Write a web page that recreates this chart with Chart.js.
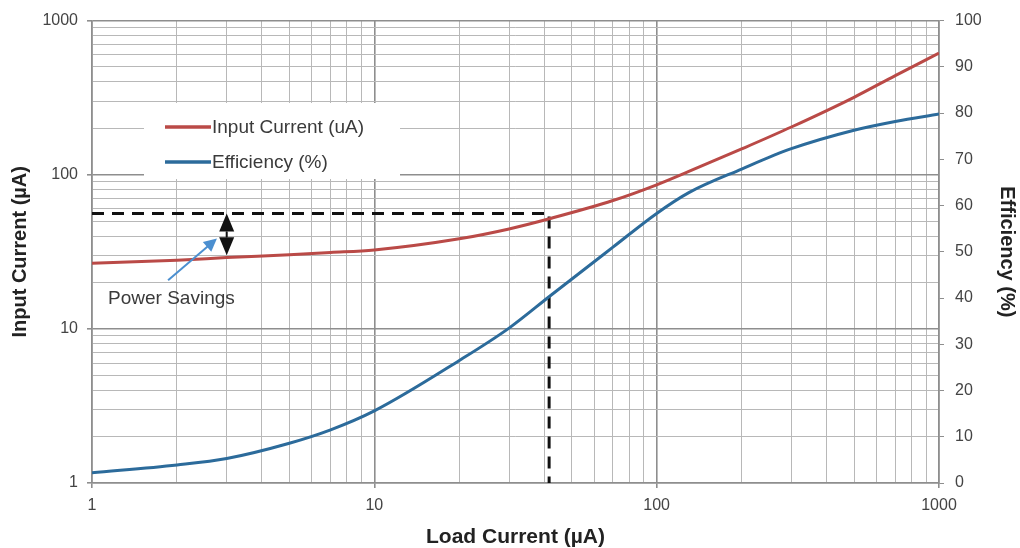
<!DOCTYPE html>
<html>
<head>
<meta charset="utf-8">
<script src="https://cdn.jsdelivr.net/npm/chart.js@4.4.1/dist/chart.umd.min.js"></script>
<style>
  html, body { margin: 0; padding: 0; background: #fff; }
  #wrap { width: 1020px; height: 548px; }
</style>
</head>
<body>
<div id="wrap"><canvas id="chart" width="1020" height="548"></canvas></div>
<script>
// Load current (uA) sample points along the curves
const loadCurrent = [1, 2, 3, 5, 7, 10, 20, 30, 42, 70, 100, 130, 200, 300, 500, 700, 1000];
// Input current (uA), left log axis
const inputCurrent = [26.7, 27.9, 29.0, 30.3, 31.3, 32.5, 38.4, 44.5, 52, 68, 86, 105, 147, 204, 318, 440, 615];
// Efficiency (%), right axis
const efficiency = [2.2, 3.9, 5.3, 8.6, 11.5, 15.6, 26.5, 33.5, 40.5, 51, 58.3, 62.8, 67.9, 72.3, 76.3, 78.2, 79.8];

// Reference (dashed) lines and the power-savings marker
const refLoad = 41.6;
const refInput = 56;
const savingsLoad = 3;
const savingsLow = 30;
const savingsLabel = 'Power Savings';
const labelPos = [1.14, 15.6];
const pointerTail = [1.86, 20.7];
const pointerHead = [2.77, 38.6];

const decadeLabels = [1, 10, 100, 1000];
const FONT = "'Liberation Sans', Arial, sans-serif";

const isMajor = v => decadeLabels.includes(v);

function logTicks(scale) {
    const ticks = [];
    for (let d = 1; d < 1000; d *= 10) {
        for (let k = 1; k < 10; k++) ticks.push({ value: k * d, major: k === 1 });
    }
    ticks.push({ value: 1000, major: true });
    scale.ticks = ticks;
}

const gridColor = ctx => (ctx.tick && ctx.tick.major) ? '#8e8e8e' : '#b8b8b8';
const gridWidth = ctx => (ctx.tick && ctx.tick.major) ? 1.6 : 1;
const tickMark = ctx => (ctx.tick && ctx.tick.major) ? '#8e8e8e' : 'rgba(0,0,0,0)';

const overlay = {
    id: 'overlay',
    beforeDatasetsDraw(chart) {
        const ctx = chart.ctx;
        // legend box, covers the grid
        ctx.save();
        ctx.fillStyle = '#fff';
        ctx.fillRect(144, 103, 256, 76);
        const rows = [127, 162];
        ctx.font = '19px ' + FONT;
        ctx.textBaseline = 'middle';
        ctx.fillStyle = '#3a3a3a';
        [0, 1].forEach((i, n) => {
            const ds = chart.data.datasets[i];
            ctx.strokeStyle = ds.borderColor;
            ctx.lineWidth = 3.5;
            ctx.beginPath();
            ctx.moveTo(165, rows[n]);
            ctx.lineTo(211, rows[n]);
            ctx.stroke();
            ctx.fillText(ds.label, 212, rows[n] + 1);
        });
        ctx.restore();
    },
    afterDatasetsDraw(chart) {
        const { ctx, scales: { x, y } } = chart;
        ctx.save();
        // double arrow between the two input-current levels
        const ax = x.getPixelForValue(savingsLoad);
        const top = y.getPixelForValue(refInput);
        const bot = y.getPixelForValue(savingsLow);
        const head = 18, half = 7.5;
        ctx.fillStyle = '#111';
        ctx.strokeStyle = '#111';
        ctx.lineWidth = 2;
        ctx.beginPath();
        ctx.moveTo(ax, top); ctx.lineTo(ax + half, top + head); ctx.lineTo(ax - half, top + head); ctx.closePath();
        ctx.fill();
        ctx.beginPath();
        ctx.moveTo(ax, bot); ctx.lineTo(ax + half, bot - head); ctx.lineTo(ax - half, bot - head); ctx.closePath();
        ctx.fill();
        ctx.beginPath();
        ctx.moveTo(ax, top + head); ctx.lineTo(ax, bot - head);
        ctx.stroke();

        // pointer from label to the arrow
        const tx = x.getPixelForValue(pointerTail[0]), ty = y.getPixelForValue(pointerTail[1]);
        const hx = x.getPixelForValue(pointerHead[0]), hy = y.getPixelForValue(pointerHead[1]);
        const ang = Math.atan2(hy - ty, hx - tx);
        ctx.strokeStyle = '#4b8fd0';
        ctx.fillStyle = '#4b8fd0';
        ctx.lineWidth = 2;
        ctx.beginPath();
        ctx.moveTo(tx, ty);
        ctx.lineTo(hx - 8 * Math.cos(ang), hy - 8 * Math.sin(ang));
        ctx.stroke();
        ctx.beginPath();
        ctx.moveTo(hx, hy);
        ctx.lineTo(hx - 13 * Math.cos(ang) + 6.5 * Math.sin(ang), hy - 13 * Math.sin(ang) - 6.5 * Math.cos(ang));
        ctx.lineTo(hx - 13 * Math.cos(ang) - 6.5 * Math.sin(ang), hy - 13 * Math.sin(ang) + 6.5 * Math.cos(ang));
        ctx.closePath();
        ctx.fill();

        // label
        ctx.font = '19px ' + FONT;
        ctx.fillStyle = '#3a3a3a';
        ctx.textBaseline = 'middle';
        ctx.textAlign = 'left';
        ctx.fillText(savingsLabel, x.getPixelForValue(labelPos[0]), y.getPixelForValue(labelPos[1]));
        ctx.restore();
    }
};

const ctx = document.getElementById('chart').getContext('2d');
new Chart(ctx, {
    type: 'line',
    data: {
        datasets: [
            {
                label: 'Input Current (uA)',
                data: loadCurrent.map((v, i) => ({ x: v, y: inputCurrent[i] })),
                borderColor: '#ba4a47',
                borderWidth: 3,
                pointRadius: 0,
                cubicInterpolationMode: 'monotone',
                yAxisID: 'y'
            },
            {
                label: 'Efficiency (%)',
                data: loadCurrent.map((v, i) => ({ x: v, y: efficiency[i] })),
                borderColor: '#2c6b9b',
                borderWidth: 3,
                pointRadius: 0,
                cubicInterpolationMode: 'monotone',
                yAxisID: 'y1'
            },
            {
                label: 'ref',
                data: [{ x: 1, y: refInput }, { x: refLoad, y: refInput }, { x: refLoad, y: 1 }],
                borderColor: '#111',
                borderWidth: 3,
                borderDash: [12, 8],
                pointRadius: 0,
                tension: 0,
                yAxisID: 'y'
            }
        ]
    },
    options: {
        responsive: false,
        animation: false,
        devicePixelRatio: 1,
        layout: { padding: { top: 19, left: 0, right: 0, bottom: 0 } },
        plugins: { legend: { display: false }, tooltip: { enabled: false } },
        scales: {
            x: {
                type: 'logarithmic',
                min: 1, max: 1000,
                afterBuildTicks: logTicks,
                afterFit: s => { s.height = 65; },
                grid: { color: gridColor, lineWidth: gridWidth, tickColor: tickMark, tickLength: 5 },
                border: { color: '#8e8e8e', width: 1.6 },
                ticks: {
                    autoSkip: false, maxRotation: 0, padding: 8,
                    color: '#444', font: { size: 16, family: FONT },
                    callback: v => isMajor(v) ? String(v) : ''
                },
                title: {
                    display: true, text: 'Load Current (µA)', color: '#222',
                    font: { size: 21, weight: 'bold', family: FONT, lineHeight: 1 },
                    padding: { top: 0, bottom: 0 }
                }
            },
            y: {
                type: 'logarithmic',
                position: 'left',
                min: 1, max: 1000,
                afterBuildTicks: logTicks,
                afterFit: s => { s.width = 92; },
                grid: { color: gridColor, lineWidth: gridWidth, tickColor: tickMark, tickLength: 5 },
                border: { color: '#8e8e8e', width: 1.6 },
                ticks: {
                    autoSkip: false, padding: 9,
                    color: '#444', font: { size: 16, family: FONT },
                    callback: v => isMajor(v) ? String(v) : ''
                },
                title: {
                    display: true, text: 'Input Current (µA)', color: '#222',
                    font: { size: 20, weight: 'bold', family: FONT, lineHeight: 1 },
                    padding: { top: 10, bottom: 0 }
                }
            },
            y1: {
                type: 'linear',
                position: 'right',
                min: 0, max: 100,
                afterFit: s => { s.width = 81; },
                grid: { drawOnChartArea: false, tickColor: '#8e8e8e', tickLength: 5 },
                border: { color: '#8e8e8e', width: 1.6 },
                ticks: {
                    stepSize: 10, padding: 11,
                    color: '#444', font: { size: 16, family: FONT }
                },
                title: {
                    display: true, text: 'Efficiency (%)', color: '#222',
                    font: { size: 20, weight: 'bold', family: FONT, lineHeight: 1 },
                    padding: { top: 3, bottom: 0 }
                }
            }
        }
    },
    plugins: [overlay]
});
</script>
</body>
</html>
